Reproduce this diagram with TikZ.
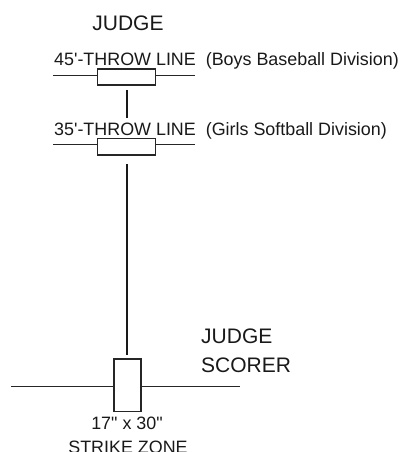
\documentclass[tikz,border=0pt]{standalone}
\usepackage{fontspec}
\setmainfont{Liberation Sans}[Ligatures=TeXOff]
\begin{document}
\begin{tikzpicture}[x=1pt,y=-1pt,
  thinline/.style={line width=0.8pt,draw=black!85},
  boxstyle/.style={draw=black!85,line width=1.5pt,fill=white,inner sep=0pt,minimum width=#1},
  bigtxt/.style={font=\fontsize{21}{23}\selectfont,inner sep=0pt,text=black!90},
  smalltxt/.style={font=\fontsize{17.9}{19.5}\selectfont,inner sep=0pt,text=black!90},
  conn/.style={line width=2pt,draw=black!90}]
\useasboundingbox (0,0) rectangle (401,452);
% top judge
\node[bigtxt,anchor=base] (judgetop) at (128,30.5) {JUDGE};
% 45' line
\node[smalltxt,anchor=base west] (lab45) at (54,66) {45'-THROW LINE~~(Boys Baseball Division)};
\coordinate (l1a) at (53,75);
\coordinate (l1b) at (195,75);
\draw[thinline] (l1a) -- (l1b);
\node[boxstyle=58pt,minimum height=16pt] (r1) at (126.5,77) {};
% 35' line
\node[smalltxt,anchor=base west] (lab35) at (54,135) {35'-THROW LINE~~(Girls Softball Division)};
\coordinate (l2a) at (53,144);
\coordinate (l2b) at (195,144);
\draw[thinline] (l2a) -- (l2b);
\node[boxstyle=58pt,minimum height=16.5pt] (r2) at (126.5,146.8) {};
% connectors
\coordinate (c1) at (127,118);
\draw[conn,shorten <=4pt] (r1.south -| c1) -- (c1);
\coordinate (c2) at (127,355);
\draw[conn,shorten <=8pt] (r2.south -| c2) -- (c2);
% strike zone
\coordinate (l3a) at (11,386);
\coordinate (l3b) at (240,386);
\draw[thinline] (l3a) -- (l3b);
\node[boxstyle=27pt,minimum height=52.5pt] (sz) at (127.5,385.3) {};
\node[bigtxt,anchor=base west] (judge2) at (201,343.5) {JUDGE};
\node[bigtxt,anchor=base west] (scorer) at (201,372) {SCORER};
\node[smalltxt,anchor=base] (dim) at (127,429) {17" x 30"};
\node[smalltxt,anchor=base] (szlab) at (128,453) {STRIKE ZONE};
\end{tikzpicture}
\end{document}
